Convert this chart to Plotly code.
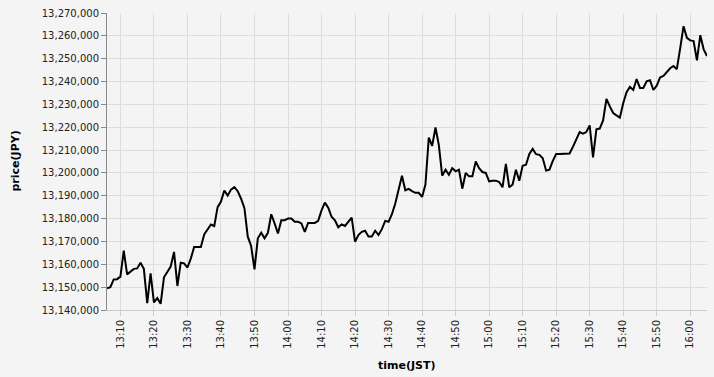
import plotly.graph_objects as go
import pandas as pd

start_time = "2024-01-01 13:06"
prices = [
    13149500, 13150000, 13153400, 13153500, 13154600, 13166000, 13155600, 13156800, 13158000, 13158200,
    13160700, 13158000, 13143000, 13156000, 13143300, 13145200, 13142700, 13154300, 13156800, 13159000,
    13165400, 13150500, 13160700, 13160400, 13158600, 13162500, 13167600, 13167600, 13167600, 13173100,
    13175500, 13177400, 13176700, 13185000, 13187500, 13192300, 13190100, 13192700, 13193800, 13192000,
    13188700, 13184600, 13172100, 13168000, 13157800, 13171400, 13173800, 13171400, 13173800, 13181900,
    13177900, 13173500, 13179300, 13179300, 13180000, 13180000, 13178600, 13178600, 13177900, 13174200,
    13178100, 13178100, 13178100, 13179000, 13183600, 13187000, 13184800, 13180800, 13179300, 13176200,
    13177500, 13176800, 13178500, 13180400, 13169900, 13172800, 13174200, 13174700, 13172200, 13172200,
    13174700, 13172800, 13175400, 13179000, 13178600, 13181900, 13186600, 13192400, 13198800, 13192400,
    13193000, 13192000, 13191300, 13191300, 13189500, 13194900, 13215500, 13211800, 13219900, 13212200,
    13198800, 13201400, 13199200, 13202100, 13200700, 13201400, 13193100, 13200000, 13198500, 13198500,
    13205000, 13202100, 13200400, 13200000, 13196300, 13196600, 13196600, 13196000, 13193700, 13204000,
    13193700, 13194900, 13201400, 13196600, 13203100, 13203600, 13208300, 13210500, 13208200, 13207900,
    13206400, 13201000, 13201400, 13205300, 13208300, 13208300, 13208300, 13208300, 13208500, 13211400,
    13214600, 13217900, 13217200, 13217900, 13220800, 13206800, 13219100, 13219400, 13223000, 13232400,
    13229100, 13226200, 13225200, 13224200, 13230500, 13235300, 13237700, 13236300, 13241100, 13237200,
    13237200, 13240100, 13240600, 13236300, 13238200, 13241800, 13242500, 13244000, 13245800, 13246800,
    13245400, 13254500, 13264200, 13259100, 13258000, 13257700, 13249300, 13260300, 13254100, 13251200,
]
times = pd.date_range(start_time, periods=len(prices), freq="min")

y_range = [13140000, 13270000]
y_tick_step = 10000
x_title = "time(JST)"
y_title = "price(JPY)"

FONT = "DejaVu Sans, sans-serif"

fig = go.Figure()
fig.add_trace(go.Scatter(
    x=times, y=prices, mode="lines",
    line=dict(color="#000000", width=2),
    hoverinfo="skip",
))

fig.update_layout(
    width=714, height=377,
    margin=dict(l=107, r=7, t=10, b=67),
    paper_bgcolor="#f4f4f4",
    plot_bgcolor="#f4f4f4",
    showlegend=False,
    font=dict(family=FONT, size=10, color="#222222"),
    xaxis=dict(
        type="date",
        range=[times[0], times[-1]],
        tickformat="%H:%M",
        dtick=600000,
        tick0="2024-01-01 13:00",
        tickangle=-90,
        showgrid=True, gridcolor="#dddddd", gridwidth=1,
        showline=True, linecolor="#cccccc", linewidth=1,
        ticks="outside", ticklen=5, tickcolor="#cccccc",
        zeroline=False,
        tickfont=dict(family=FONT, size=10, color="#222222"),
    ),
    yaxis=dict(
        range=y_range,
        dtick=y_tick_step,
        tickformat=",",
        showgrid=True, gridcolor="#dddddd", gridwidth=1,
        showline=True, linecolor="#888888", linewidth=1,
        ticks="outside", ticklen=5, tickcolor="#888888",
        zeroline=False,
        tickfont=dict(family=FONT, size=10, color="#222222"),
    ),
    annotations=[
        dict(text="<b>" + x_title + "</b>", xref="paper", yref="paper",
             x=0.5, y=-(366 - 310) / 300, xanchor="center", yanchor="middle",
             showarrow=False, font=dict(family=FONT, size=11, color="#000000")),
        dict(text="<b>" + y_title + "</b>", xref="paper", yref="paper",
             x=(15 - 107) / 600, y=0.5, xanchor="center", yanchor="middle",
             textangle=-90, showarrow=False,
             font=dict(family=FONT, size=11, color="#000000")),
    ],
)

fig.write_html("out.html")
